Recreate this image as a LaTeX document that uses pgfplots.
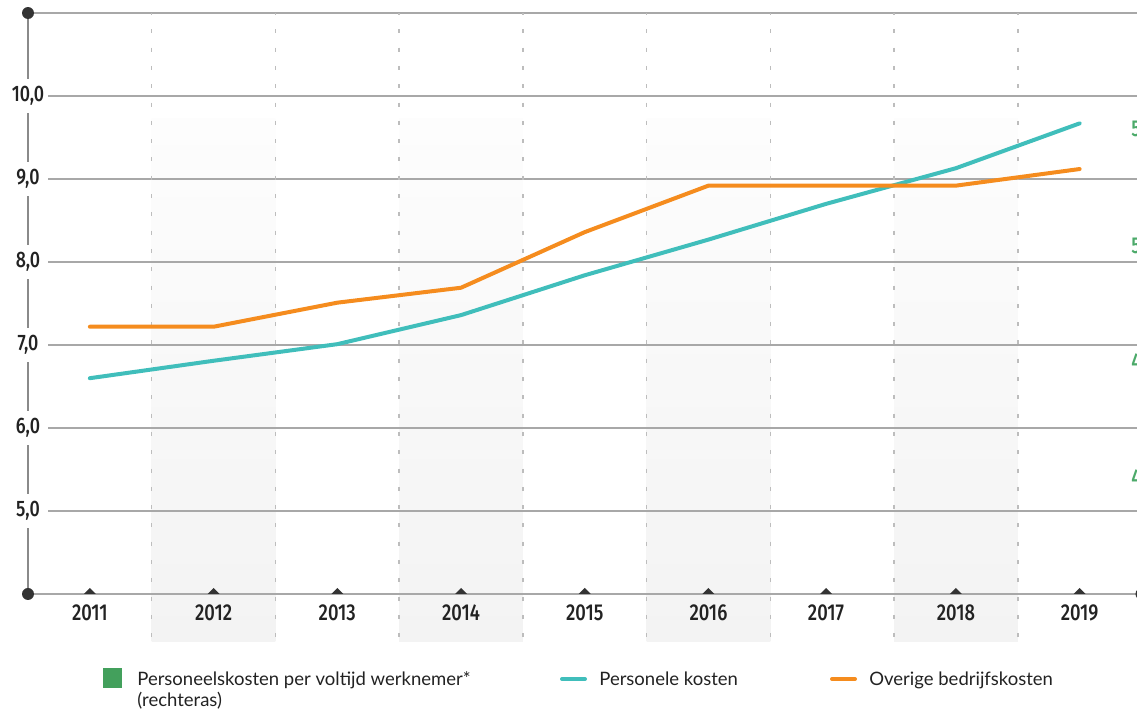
\documentclass[border=0pt]{standalone}
\usepackage{fontspec}
\setmainfont{Lato}
\newfontfamily\tickfont[FakeStretch=0.8]{Fira Sans Medium}
\usepackage{pgfplots}
\pgfplotsset{compat=1.18}
\definecolor{tealc}{HTML}{40BEBB}
\definecolor{orangec}{HTML}{F58C1E}
\definecolor{greenc}{HTML}{43A05C}
\definecolor{greenlab}{HTML}{4CAA6A}
\definecolor{textdark}{HTML}{222222}
\definecolor{gridc}{HTML}{A8A8A8}
\definecolor{axisc}{HTML}{8A8A8A}
\definecolor{dashc}{HTML}{BDBDBD}
\definecolor{dotc}{HTML}{333333}
\definecolor{bandtop}{HTML}{FDFDFD}
\definecolor{bandbot}{HTML}{F3F3F3}
\pgfdeclareplotmark{uptri}{%
  \pgfpathmoveto{\pgfpoint{-3pt}{0pt}}%
  \pgfpathlineto{\pgfpoint{3pt}{0pt}}%
  \pgfpathlineto{\pgfpoint{0pt}{3pt}}%
  \pgfpathclose\pgfusepathqfill}
\begin{document}
\begin{tikzpicture}
\begin{axis}[
  set layers,
  at={(0,0)}, anchor=south west,
  width=556.75pt, height=290.5pt, scale only axis,
  xmin=-0.5, xmax=8.5, ymin=4, ymax=11,
  clip=false,
  axis line style={draw=none},
  major tick length=0pt,
  tick style={draw=none},
  xtick={0,1,2,3,4,5,5.95,7,8},
  xticklabels={2011,2012,2013,2014,2015,2016,2017,2018,2019},
  ytick={5,6,7,8,9,10},
  /pgf/number format/.cd, use comma, fixed, fixed zerofill, precision=1, assume math mode=true,
  /pgfplots/.cd,
  xticklabel style={font=\tickfont\fontsize{11.5}{12}\selectfont, text=textdark, anchor=center, yshift=-9.5pt},
  yticklabel style={font=\tickfont\fontsize{11.2}{12}\selectfont, text=textdark, anchor=center, fill=white, inner xsep=1.5pt, inner ysep=3.5pt},
]
\begin{pgfonlayer}{axis background}
  % shaded bands
  \foreach \b in {0.5,2.5,4.5,6.5}{
    \pgfmathsetmacro{\e}{\b+1}
    \edef\tmp{\noexpand\shade[top color=bandtop, bottom color=bandbot] (axis cs:\b,9.73) rectangle ([yshift=-24pt]axis cs:\e,4);}
    \tmp
  }
  % horizontal grid lines
  \foreach \yy in {5,6,7,8,9,10}{
    \edef\tmp{\noexpand\draw[gridc, line width=0.75pt] ([xshift=10pt]axis cs:-0.5,\yy) -- (axis cs:8.5,\yy);}
    \tmp
  }
  \draw[gridc, line width=0.75pt] (axis cs:-0.5,11) -- (axis cs:8.5,11);
  \draw[gridc, line width=0.75pt] (axis cs:-0.5,4) -- (axis cs:8.5,4);
  % dashed vertical separators
  \foreach \b in {0.5,1.5,2.5,3.5,4.5,5.5,6.5,7.5}{
    \edef\tmp{\noexpand\draw[dashc, line width=0.75pt, dash pattern=on 2pt off 7.15pt, dash phase=1pt] (axis cs:\b,11) -- ([yshift=-24pt]axis cs:\b,4);}
    \tmp
  }
  % left axis line
  \draw[axisc, line width=1pt] (axis cs:-0.5,4) -- (axis cs:-0.5,11);
\end{pgfonlayer}

\addplot[tealc, line width=2pt, line cap=round, line join=round] coordinates {
  (0,6.60) (1,6.81) (2,7.01) (3,7.36) (4,7.84) (5,8.27) (5.95,8.70) (7,9.13) (8,9.67)};
\addplot[orangec, line width=2pt, line cap=round, line join=round] coordinates {
  (0,7.22) (1,7.22) (2,7.51) (3,7.69) (4,8.36) (5,8.92) (5.95,8.92) (7,8.92) (8,9.12)};

% tick triangles on the base line
\addplot[only marks, mark=uptri, color=dotc] coordinates {
  (0,4) (1,4) (2,4) (3,4) (4,4) (5,4) (5.95,4) (7,4) (8,4)};

% end dots
\fill[dotc] (axis cs:-0.5,11) circle[radius=3pt];
\fill[dotc] (axis cs:-0.5,4) circle[radius=3pt];
\fill[dotc] (axis cs:8.5,4) circle[radius=3pt];

% right axis labels (cut off at picture edge)
\foreach \yy/\lab in {5.4/40,6.8/45,8.2/50,9.6/55}{
  \edef\tmp{\noexpand\node[anchor=west, inner sep=0pt, text=greenlab, font=\noexpand\tickfont\noexpand\fontsize{11.5}{12}\noexpand\selectfont, xshift=-5.25pt] at (axis cs:8.5,\yy) {\lab};}
  \tmp
}
\end{axis}

% legend
\fill[greenc] (37.5pt,-37pt) rectangle (47pt,-47pt);
\node[anchor=base west, inner sep=0pt, text=textdark, font=\fontsize{9.25}{9}\selectfont] at (54.5pt,-46pt) {Personeelskosten per voltijd werknemer*};
\node[anchor=base west, inner sep=0pt, text=textdark, font=\fontsize{9.25}{9}\selectfont] at (54.5pt,-56.5pt) {(rechteras)};
\draw[tealc, line width=2pt, line cap=round] (267pt,-42.5pt) -- (278.5pt,-42.5pt);
\node[anchor=base west, inner sep=0pt, text=textdark, font=\fontsize{9.25}{9}\selectfont] at (285.5pt,-46pt) {Personele kosten};
\draw[orangec, line width=2pt, line cap=round] (402pt,-42.5pt) -- (413.5pt,-42.5pt);
\node[anchor=base west, inner sep=0pt, text=textdark, font=\fontsize{9.25}{9}\selectfont] at (420.5pt,-46pt) {Overige bedrijfskosten};

\pgfresetboundingbox
\useasboundingbox (-14pt,-59pt) rectangle (554.5pt,297pt);
\end{tikzpicture}
\end{document}
